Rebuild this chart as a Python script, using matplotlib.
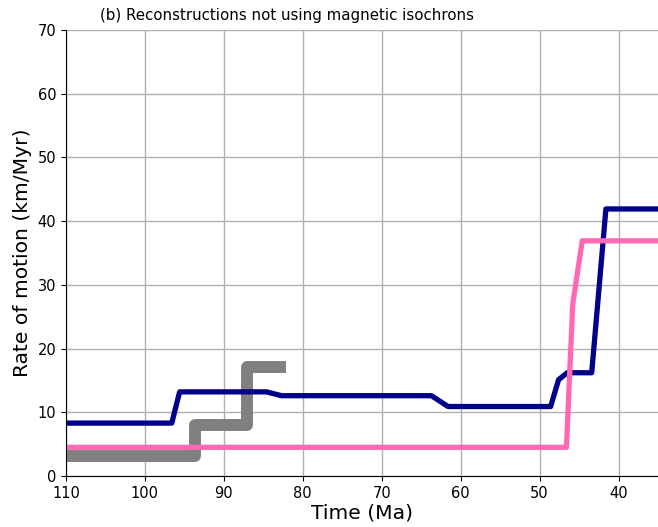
import matplotlib
matplotlib.use('Agg')
import matplotlib.pyplot as plt

# time (Ma) and rate (km/Myr)
gray_t = [110, 93.6, 93.6, 87.1, 87.1, 82.1]
gray_v = [3.1, 3.1, 8.0, 8.0, 17.1, 17.1]

blue_t = [110, 96.6, 95.6, 84.6, 82.7, 63.7, 61.6, 48.6, 47.6, 46.5, 43.4, 41.6, 35]
blue_v = [8.3, 8.3, 13.2, 13.2, 12.6, 12.6, 10.9, 10.9, 15.1, 16.2, 16.2, 41.9, 41.9]

pink_t = [110, 46.6, 45.8, 44.6, 35]
pink_v = [4.5, 4.5, 27.0, 36.9, 36.9]

fig = plt.figure(figsize=(6.58, 5.27), dpi=100)
ax = fig.add_axes([0.1003, 0.0968, 0.8997, 0.8465])

ax.plot(gray_t, gray_v, color='grey', lw=8.6, solid_capstyle='butt', solid_joinstyle='round')
ax.plot(blue_t, blue_v, color='darkblue', lw=3.8)
ax.plot(pink_t, pink_v, color='hotpink', lw=3.8)

ax.set_xlim(110, 35)
ax.set_ylim(0, 70)
ax.grid(True, color='#b0b0b0', lw=1)
ax.set_axisbelow(True)
ax.tick_params(labelsize=10.5)
ax.set_xlabel('Time (Ma)', fontsize=14.6, labelpad=2)
ax.set_ylabel('Rate of motion (km/Myr)', fontsize=14.6)
# title sits left of the axes centre in the original
ax.set_title('(b) Reconstructions not using magnetic isochrons', fontsize=10.8, x=0.374, pad=7)
for s in ['top', 'right']:
    ax.spines[s].set_visible(False)

fig.savefig('out.png', dpi=100)
